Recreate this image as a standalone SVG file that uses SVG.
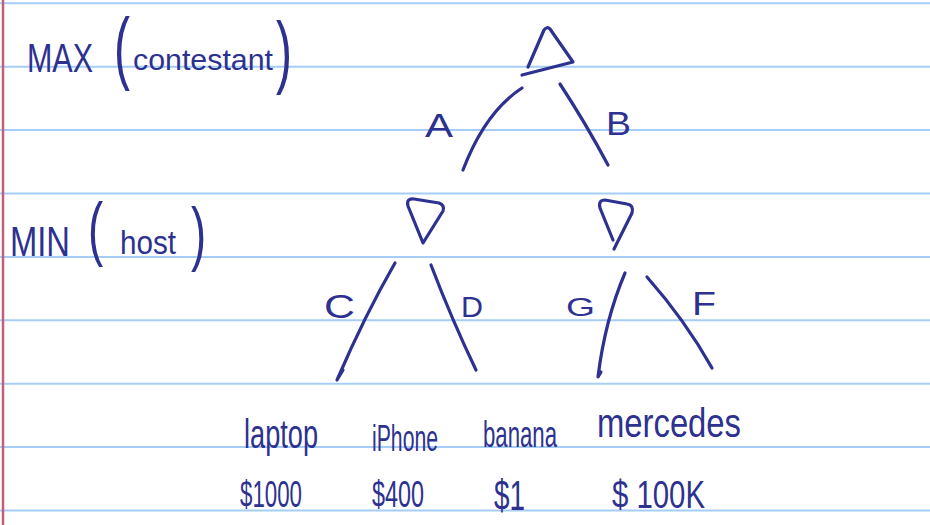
<svg xmlns="http://www.w3.org/2000/svg" width="930" height="525" viewBox="0 0 930 525">
<style>
.rule{stroke:#a6cdf5;stroke-width:2;fill:none}
.margin{stroke:#c0607a;stroke-width:2.5;fill:none}
.ink{stroke:#2d3190;stroke-width:3.2;fill:none;stroke-linecap:round;stroke-linejoin:round}
.t{fill:#2d3190;font-family:"Liberation Sans",Arial,sans-serif}
</style>
<rect width="930" height="525" fill="#ffffff"/>
<g id="paper">
<line class="rule" x1="0" y1="3.3" x2="930" y2="3.3"/>
<line class="rule" x1="0" y1="66.7" x2="930" y2="66.7"/>
<line class="rule" x1="0" y1="130.1" x2="930" y2="130.1"/>
<line class="rule" x1="0" y1="193.5" x2="930" y2="193.5"/>
<line class="rule" x1="0" y1="256.9" x2="930" y2="256.9"/>
<line class="rule" x1="0" y1="320.3" x2="930" y2="320.3"/>
<line class="rule" x1="0" y1="383.7" x2="930" y2="383.7"/>
<line class="rule" x1="0" y1="447.1" x2="930" y2="447.1"/>
<line class="rule" x1="0" y1="510.5" x2="930" y2="510.5"/>
<line class="margin" x1="3" y1="0" x2="3" y2="525"/>
</g>
<g id="labels">
<text class="t" x="27" y="72" font-size="40" textLength="66" lengthAdjust="spacingAndGlyphs">MAX</text>
<text class="t" transform="translate(114,74) scale(0.6,1)" font-size="80">(</text>
<text class="t" x="133" y="70" font-size="30" textLength="140" lengthAdjust="spacingAndGlyphs">contestant</text>
<text class="t" transform="translate(276,78) scale(0.6,1)" font-size="80">)</text>
<text class="t" x="10" y="256" font-size="42" textLength="60" lengthAdjust="spacingAndGlyphs">MIN</text>
<text class="t" transform="translate(88,252) scale(0.65,1)" font-size="70">(</text>
<text class="t" x="120" y="254" font-size="34" textLength="56" lengthAdjust="spacingAndGlyphs">host</text>
<text class="t" transform="translate(191,257) scale(0.65,1)" font-size="70">)</text>
</g>
<g id="connectors">
<path class="ink" d="M522,88 Q485,112 463,170"/>
<path class="ink" d="M560,84 Q585,122 608,165"/>
<path class="ink" d="M395,263 Q365,315 337,380 L343,370"/>
<path class="ink" d="M431,265 Q452,320 476,370"/>
<path class="ink" d="M625,273 Q605,320 598,377 L601,372"/>
<path class="ink" d="M647,277 Q685,320 712,368"/>
<text class="t" x="425" y="137" font-size="34" textLength="28" lengthAdjust="spacingAndGlyphs">A</text>
<text class="t" x="606" y="135" font-size="34" textLength="25" lengthAdjust="spacingAndGlyphs">B</text>
<text class="t" x="324" y="318" font-size="34" textLength="31" lengthAdjust="spacingAndGlyphs">C</text>
<text class="t" x="461" y="317" font-size="30" textLength="22" lengthAdjust="spacingAndGlyphs">D</text>
<text class="t" x="566" y="316" font-size="26" textLength="29" lengthAdjust="spacingAndGlyphs">G</text>
<text class="t" x="692" y="315" font-size="34" textLength="24" lengthAdjust="spacingAndGlyphs">F</text>
</g>
<g id="max-root">
<path class="ink" d="M528,67 L544,30 Q547,26 550,29 L573,62 L522,75"/>
</g>
<g id="min-left">
<path class="ink" d="M423,243 L408,206 Q406,198 414,199 L439,203 Q445,205 443,211 Z"/>
</g>
<g id="min-right">
<path class="ink" d="M614,249 L632,213 Q634,205 627,204 L605,200 Q598,200 600,208 L613,240"/>
</g>
<g id="leaf-laptop">
<text class="t" x="244" y="448" font-size="40" textLength="74" lengthAdjust="spacingAndGlyphs">laptop</text>
<text class="t" x="240" y="507" font-size="36" textLength="62" lengthAdjust="spacingAndGlyphs">$1000</text>
</g>
<g id="leaf-iphone">
<text class="t" x="372" y="451" font-size="36" textLength="66" lengthAdjust="spacingAndGlyphs">iPhone</text>
<text class="t" x="372" y="507" font-size="36" textLength="52" lengthAdjust="spacingAndGlyphs">$400</text>
</g>
<g id="leaf-banana">
<text class="t" x="483" y="447" font-size="36" textLength="74" lengthAdjust="spacingAndGlyphs">banana</text>
<text class="t" x="494" y="510" font-size="42" textLength="31" lengthAdjust="spacingAndGlyphs">$1</text>
</g>
<g id="leaf-mercedes">
<text class="t" x="597" y="437" font-size="40" textLength="144" lengthAdjust="spacingAndGlyphs">mercedes</text>
<text class="t" x="612" y="508" font-size="38" textLength="93" lengthAdjust="spacingAndGlyphs">$ 100K</text>
</g>
</svg>
